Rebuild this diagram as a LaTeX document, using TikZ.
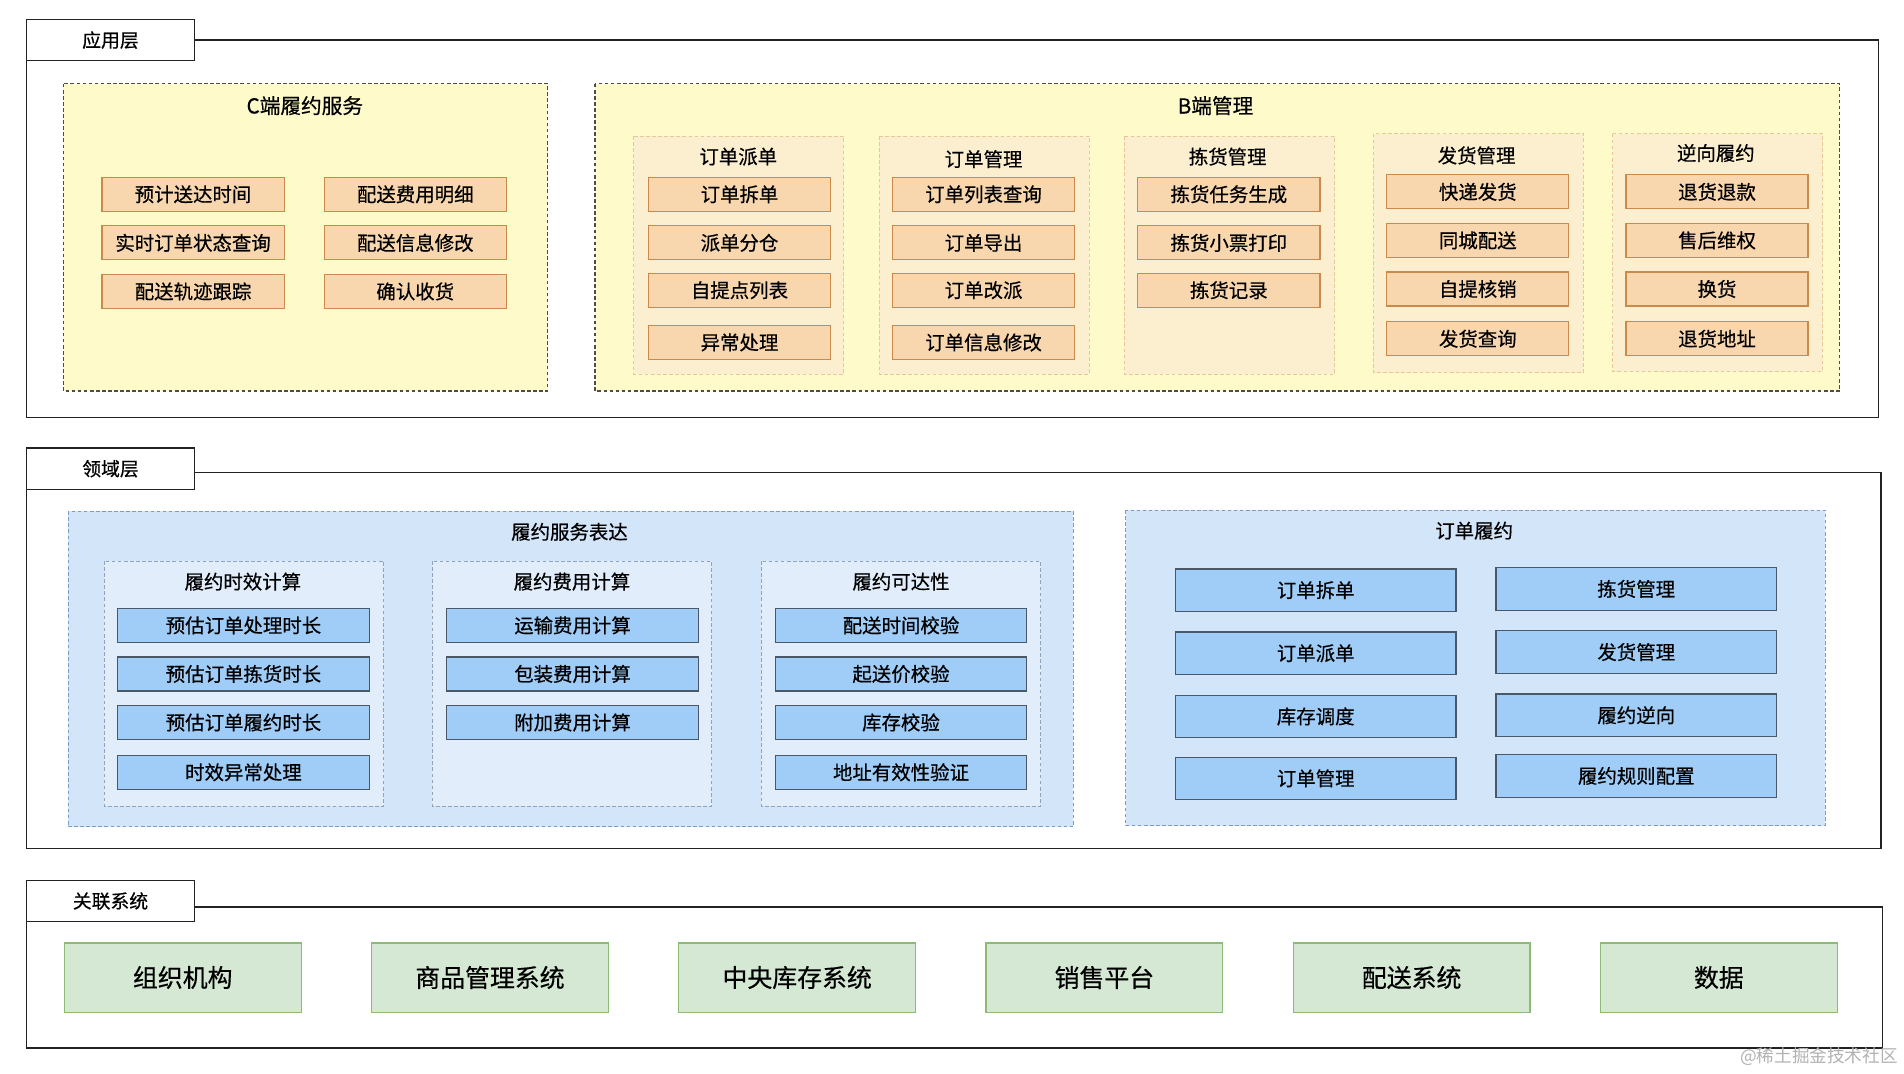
\documentclass[tikz,border=0pt]{standalone}
\usepackage{fontspec}
\setmainfont{Noto Sans CJK SC}[FakeBold=0.5]
\newfontfamily\wmfont{Noto Sans CJK SC}
\definecolor{yfill}{HTML}{FEFAC9}
\definecolor{ofill}{HTML}{FCEFD0}
\definecolor{oline}{HTML}{E6C796}
\definecolor{ibfill}{HTML}{F8D6AE}
\definecolor{ibline}{HTML}{C98A4B}
\definecolor{bgfill}{HTML}{D3E5F9}
\definecolor{bgline}{HTML}{7F9CC0}
\definecolor{bsfill}{HTML}{E1EDFB}
\definecolor{bsline}{HTML}{8FA3BA}
\definecolor{bifill}{HTML}{9FCDF7}
\definecolor{biline}{HTML}{4A5867}
\definecolor{gfill}{HTML}{D5E8D4}
\definecolor{gline}{HTML}{8DBA75}
\definecolor{dark}{HTML}{222222}
\tikzset{
  outer/.style={draw=dark, line width=1.1pt},
  tab/.style={draw=dark, line width=1.1pt, fill=white, minimum width=138, minimum height=34, inner sep=0pt, font=\fontsize{15.5}{18}\selectfont},
  ygroup/.style={draw=black!70, fill=yfill, line width=0.9pt, dash pattern=on 3pt off 2pt},
  ogroup/.style={draw=oline, fill=ofill, line width=0.8pt, dash pattern=on 3pt off 2pt},
  bgroup/.style={draw=bgline, fill=bgfill, line width=0.8pt, dash pattern=on 3pt off 2pt},
  bsgroup/.style={draw=bsline, fill=bsfill, line width=0.8pt, dash pattern=on 3pt off 2pt},
  gtitle/.style={inner sep=0pt, font=\fontsize{17}{20}\selectfont},
  stitle/.style={inner sep=0pt, font=\fontsize{16}{19}\selectfont},
  obox/.style={draw=ibline, fill=ibfill, line width=1pt, minimum width=150, minimum height=28, inner sep=0pt, font=\fontsize{16}{19}\selectfont},
  bbox/.style={draw=biline, fill=bifill, line width=1pt, minimum width=207, minimum height=28, inner sep=0pt, font=\fontsize{16}{19}\selectfont},
  bbbox/.style={draw=biline, fill=bifill, line width=1pt, minimum width=231, minimum height=35, inner sep=0pt, font=\fontsize{16}{19}\selectfont},
  gbox/.style={draw=gline, fill=gfill, line width=1pt, minimum width=195, minimum height=57, inner sep=0pt, font=\fontsize{20.5}{24}\selectfont},
}
\begin{document}
\begin{tikzpicture}[x=1pt, y=-1pt]
\useasboundingbox[fill=white] (0,0) rectangle (1568,884);

% ---------------- Layer 1 ----------------
\draw[outer] (22,33) rectangle (1547,344);
\node[tab] (t1) at (91,33) {应用层};

\path[ygroup] (52,69) rectangle (451,322);
\node[gtitle] (cgt) at (251,87) {C端履约服务};
\node[obox] (c11) at (159,160) {预计送达时间};
\node[obox] (c12) at (159,200) {实时订单状态查询};
\node[obox] (c13) at (159,240) {配送轨迹跟踪};
\node[obox] (c21) at (342,160) {配送费用明细};
\node[obox] (c22) at (342,200) {配送信息修改};
\node[obox] (c23) at (342,240) {确认收货};

\path[ygroup] (490,69) rectangle (1515,322);
\node[gtitle] (bgt) at (1001,87) {B端管理};

\path[ogroup] (522,112) rectangle (695,308);
\node[stitle] (s1) at (608,129) {订单派单};
\node[obox] (s11) at (609,160) {订单拆单};
\node[obox] (s12) at (609,200) {派单分仓};
\node[obox] (s13) at (609,239) {自提点列表};
\node[obox] (s14) at (609,282) {异常处理};

\path[ogroup] (724,112) rectangle (897,308);
\node[stitle] (s2) at (810,131) {订单管理};
\node[obox] (s21) at (810,160) {订单列表查询};
\node[obox] (s22) at (810,200) {订单导出};
\node[obox] (s23) at (810,239) {订单改派};
\node[obox] (s24) at (810,282) {订单信息修改};

\path[ogroup] (926,112) rectangle (1099,308);
\node[stitle] (s3) at (1011,129) {拣货管理};
\node[obox] (s31) at (1012,160) {拣货任务生成};
\node[obox] (s32) at (1012,200) {拣货小票打印};
\node[obox] (s33) at (1012,239) {拣货记录};

\path[ogroup] (1131,110) rectangle (1304,307);
\node[stitle] (s4) at (1216,128) {发货管理};
\node[obox] (s41) at (1217,158) {快递发货};
\node[obox] (s42) at (1217,198) {同城配送};
\node[obox] (s43) at (1217,238) {自提核销};
\node[obox] (s44) at (1217,279) {发货查询};

\path[ogroup] (1328,110) rectangle (1501,306);
\node[stitle] (s5) at (1413,126) {逆向履约};
\node[obox] (s51) at (1414,158) {退货退款};
\node[obox] (s52) at (1414,198) {售后维权};
\node[obox] (s53) at (1414,238) {换货};
\node[obox] (s54) at (1414,279) {退货地址};

% ---------------- Layer 2 ----------------
\draw[outer] (22,389) rectangle (1549,699);
\node[tab] (t2) at (91,386) {领域层};

\path[bgroup] (56,421) rectangle (884,681);
\node[stitle] (dgt) at (469,438) {履约服务表达};

\path[bsgroup] (86,462) rectangle (316,664);
\node[stitle] (d1) at (200,479) {履约时效计算};
\node[bbox] (d11) at (200.5,515) {预估订单处理时长};
\node[bbox] (d12) at (200.5,555) {预估订单拣货时长};
\node[bbox] (d13) at (200.5,595) {预估订单履约时长};
\node[bbox] (d14) at (200.5,636) {时效异常处理};

\path[bsgroup] (356,462) rectangle (586,664);
\node[stitle] (d2) at (471,479) {履约费用计算};
\node[bbox] (d21) at (471.5,515) {运输费用计算};
\node[bbox] (d22) at (471.5,555) {包装费用计算};
\node[bbox] (d23) at (471.5,595) {附加费用计算};

\path[bsgroup] (627,462) rectangle (857,664);
\node[stitle] (d3) at (742,479) {履约可达性};
\node[bbox] (d31) at (742,515) {配送时间校验};
\node[bbox] (d32) at (742,555) {起送价校验};
\node[bbox] (d33) at (742,595) {库存校验};
\node[bbox] (d34) at (742,636) {地址有效性验证};

\path[bgroup] (927,420) rectangle (1503,680);
\node[stitle] (ogt) at (1214,437) {订单履约};
\node[bbbox] (o11) at (1083.5,486) {订单拆单};
\node[bbbox] (o12) at (1083.5,538) {订单派单};
\node[bbbox] (o13) at (1083.5,590) {库存调度};
\node[bbbox] (o14) at (1083.5,641) {订单管理};
\node[bbbox] (o21) at (1347.5,485) {拣货管理};
\node[bbbox] (o22) at (1347.5,537) {发货管理};
\node[bbbox] (o23) at (1347.5,589) {履约逆向};
\node[bbbox] (o24) at (1347.5,639) {履约规则配置};

% ---------------- Layer 3 ----------------
\draw[outer] (22,747) rectangle (1550,863);
\node[tab] (t3) at (91,742) {关联系统};
\node[gbox] (g1) at (150.5,805) {组织机构};
\node[gbox] (g2) at (403.5,805) {商品管理系统};
\node[gbox] (g3) at (656.5,805) {中央库存系统};
\node[gbox] (g4) at (909.5,805) {销售平台};
\node[gbox] (g5) at (1162.5,805) {配送系统};
\node[gbox] (g6) at (1415.5,805) {数据};

\node[inner sep=0pt, text=black!30, anchor=east, font=\wmfont\fontsize{14.5}{17}\selectfont] (wm) at (1563,870) {@稀土掘金技术社区};
\end{tikzpicture}
\end{document}
